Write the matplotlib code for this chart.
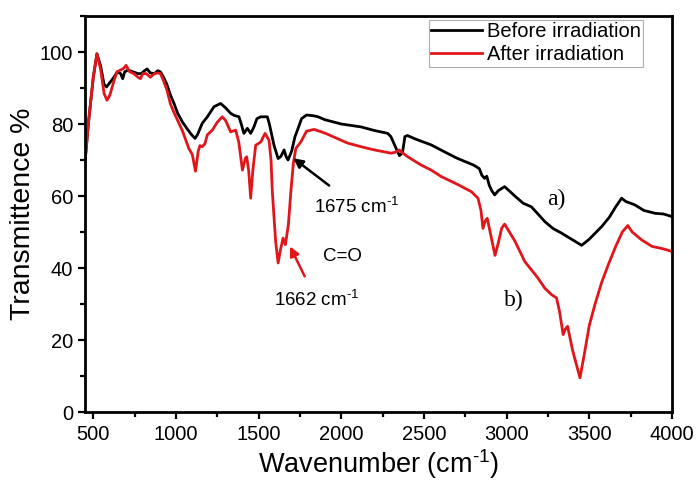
import matplotlib
matplotlib.use("Agg")
import matplotlib.pyplot as plt
from matplotlib.ticker import MultipleLocator

plt.rcParams['font.family'] = ['Liberation Sans', 'DejaVu Sans']
plt.rcParams['mathtext.fontset'] = 'custom'
plt.rcParams['mathtext.rm'] = 'Liberation Sans'
plt.rcParams['mathtext.default'] = 'regular'

before_x = [450, 470, 500, 522, 545, 565, 580, 600, 625, 645, 665, 678, 690, 710, 740, 770, 790, 810, 825,
            845, 870, 890, 906, 925, 945, 967, 990, 1010, 1040, 1070, 1095, 1115, 1130, 1159, 1190, 1230,
            1270, 1300, 1330, 1351, 1381, 1395, 1411, 1432, 1452, 1470, 1490, 1513, 1553, 1565, 1593, 1618,
            1635, 1654, 1666, 1678, 1700, 1720, 1735, 1760, 1790, 1830, 1860, 1900, 2000, 2119, 2200, 2281,
            2300, 2332, 2352, 2370, 2385, 2400, 2450, 2544, 2623, 2700, 2800, 2835, 2850, 2867, 2880, 2895,
            2910, 2928, 2950, 2988, 3050, 3100, 3150, 3190, 3231, 3280, 3332, 3400, 3454, 3500, 3575, 3620,
            3660, 3696, 3720, 3750, 3777, 3830, 3898, 3950, 4000]
before_y = [69.5, 80, 93, 99.5, 96, 91, 90.3, 91.5, 93, 94.5, 94, 92.6, 94.5, 95, 94.5, 94, 94, 94.8, 95.3,
            94.2, 94, 94.8, 94.5, 93, 91, 88, 85.5, 83, 80.5, 78.5, 77, 76, 77, 80.2, 82, 84.8,
            85.7, 84.5, 83, 82.4, 82, 80, 77.4, 78.8, 77.4, 79, 81.5, 82, 82, 80, 74.1, 70.4,
            71, 72.8, 71, 70, 72.5, 76.5, 78.3, 81.5, 82.5, 82.3, 82, 81.2, 80, 79.2, 78.2, 77.4,
            76.5, 73.2, 71.2, 72, 76.5, 76.8, 75.8, 74.2, 72.3, 70.5, 68.6, 67.6, 65.8, 64.9, 65.5, 63,
            61.5, 60.3, 61.5, 62.6, 60, 58, 57, 55, 52.9, 51, 49.7, 47.8, 46.3, 48, 51.5, 54,
            57, 59.4, 58.5, 58, 57.5, 56, 55.2, 55, 54.3]

after_x = [450, 470, 500, 522, 545, 565, 583, 600, 625, 644, 665, 685, 698, 720, 745, 770, 785, 800, 820,
           846, 870, 890, 906, 925, 945, 967, 990, 1010, 1040, 1078, 1099, 1118, 1135, 1145, 1159, 1175,
           1190, 1220, 1250, 1280, 1300, 1331, 1361, 1380, 1402, 1420, 1428, 1440, 1452, 1465, 1482, 1513,
           1539, 1563, 1575, 1583, 1603, 1618, 1632, 1648, 1662, 1680, 1695, 1710, 1725, 1755, 1790, 1836,
           1900, 2038, 2119, 2200, 2301, 2330, 2352, 2370, 2402, 2483, 2544, 2605, 2700, 2787, 2827, 2845,
           2857, 2870, 2883, 2905, 2930, 2950, 2970, 2988, 3050, 3110, 3150, 3190, 3231, 3272, 3302, 3320,
           3342, 3355, 3369, 3400, 3444, 3470, 3500, 3534, 3575, 3615, 3660, 3700, 3733, 3760, 3817, 3880,
           3950, 4000]
after_y = [69.5, 80, 93, 99.5, 95, 88.5, 86.6, 88, 92, 94.5, 95, 95.5, 96.3, 94.5, 94, 93, 92.6, 94, 94,
           93, 94, 94.2, 94, 92, 89.5, 85.5, 83, 81, 78, 73.2, 71.5, 66.9, 72.5, 74, 73.7, 74.5,
           77, 78.3, 80.5, 82, 81, 77.8, 78.3, 75, 67.2, 70.5, 70.9, 67, 59.4, 67, 74.1, 75,
           77.4, 75.5, 70, 61.2, 47.4, 41.4, 45, 48.3, 46.5, 52, 61.2, 69, 73.2, 75, 78, 78.5,
           77.5, 74.7, 73.7, 72.8, 71.9, 72.2, 72.8, 72, 70.9, 68.6, 67.2, 65.4, 63.3, 61.2, 59.4, 56,
           51, 53, 53.8, 49, 43.5, 47, 51, 52.2, 47.5, 41.8, 39.5, 37.2, 34.4, 32.6, 31.7, 28,
           21.5, 23, 23.8, 17, 9.5, 16, 24, 29.8, 36, 40.9, 46, 50, 51.8, 50, 47.8, 46,
           45.3, 44.6]

series_labels = ["Before irradiation", "After irradiation"]
x_ticks = [500, 1000, 1500, 2000, 2500, 3000, 3500, 4000]
y_ticks = [0, 20, 40, 60, 80, 100]

fig = plt.figure(figsize=(6.97, 4.82), dpi=100)
ax = fig.add_axes([0.122, 0.1452, 0.842, 0.8216])

red = '#e0161b'
ax.plot(before_x, before_y, color='black', lw=2.0, label=series_labels[0])
ax.plot(after_x, after_y, color=red, lw=2.0, label=series_labels[1])

ax.set_xlim(450, 4000)
ax.set_ylim(0, 110)
ax.set_xticks(x_ticks)
ax.set_yticks(y_ticks)
ax.xaxis.set_minor_locator(MultipleLocator(250))
ax.yaxis.set_minor_locator(MultipleLocator(10))
ax.tick_params(which='major', direction='out', length=5, width=1.6, labelsize=14.5, color='black')
ax.tick_params(which='minor', direction='out', length=3.5, width=1.6)
ax.tick_params(axis='x', pad=4)
for s in ax.spines.values():
    s.set_linewidth(2.0)

sup = r"$^{\text{-1}}$"
ax.set_xlabel("Wavenumber (cm" + sup + ")", fontsize=19.5, labelpad=3)
ax.set_ylabel("Transmittence %", fontsize=20.5, labelpad=3)

leg = ax.legend(loc='upper left', bbox_to_anchor=(0.586, 0.99), borderaxespad=0,
                frameon=True, fancybox=False, fontsize=14.5, handlelength=2.5,
                handletextpad=0.25, borderpad=0.12, labelspacing=0.2)
leg.get_frame().set_edgecolor('#999999')
leg.get_frame().set_linewidth(0.8)

ax.annotate("1675 cm" + sup, xy=(1710, 70.5), xytext=(2095, 57), fontsize=13.5,
            ha='center', va='center',
            arrowprops=dict(arrowstyle='-|>', color='black', lw=1.8, mutation_scale=14,
                            shrinkA=10, shrinkB=0))
ax.text(2010, 43.2, "C=O", fontsize=13.5, ha='center', va='center')
ax.annotate("1662 cm" + sup, xy=(1690, 46), xytext=(1850, 31), fontsize=13.5,
            ha='center', va='center',
            arrowprops=dict(arrowstyle='-|>', color=red, lw=1.8, mutation_scale=14,
                            shrinkA=9, shrinkB=0))
ax.text(3302, 59, "a)", fontsize=17, family='Liberation Serif', ha='center', va='center')
ax.text(3042, 31, "b)", fontsize=17, family='Liberation Serif', ha='center', va='center')

fig.savefig("out.png", dpi=100)
